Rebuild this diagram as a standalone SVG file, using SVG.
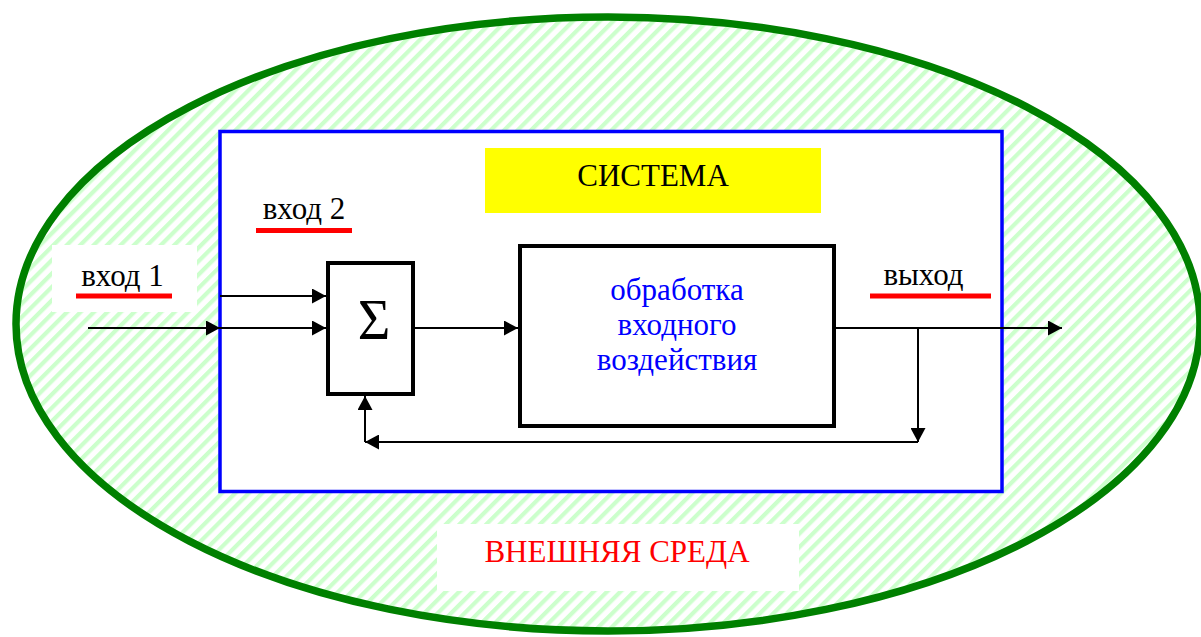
<svg xmlns="http://www.w3.org/2000/svg" width="1201" height="637" viewBox="0 0 1201 637">
<style>
.lbl{font-family:"Liberation Serif","Times New Roman",serif;fill:#000;text-anchor:middle;font-size:31px}
.blk{fill:#fff;stroke:#000;stroke-width:4}
.ul{fill:#ff0000}
.con{fill:none;stroke:#000;stroke-width:2}
</style>
<defs>
<pattern id="hatch" width="9.5" height="9.5" patternUnits="userSpaceOnUse" patternTransform="rotate(45)">
<rect width="9.5" height="9.5" fill="#ffffff"/>
<rect width="4.2" height="9.5" fill="#ccffcc"/>
</pattern>
<marker id="arr" markerWidth="14" markerHeight="15" refX="14" refY="7.5" orient="auto" markerUnits="userSpaceOnUse">
<path d="M0,0 L14,7.5 L0,15 z" fill="#000"/>
</marker>
</defs>
<rect width="1201" height="637" fill="#fff"/>
<g id="environment">
<ellipse cx="608" cy="324" rx="592" ry="307" fill="url(#hatch)" stroke="#008000" stroke-width="7.5"/>
<rect x="437" y="524" width="362" height="67" fill="#fff"/>
<text class="lbl" x="617" y="562" style="fill:#ff0000">ВНЕШНЯЯ СРЕДА</text>
</g>
<g id="input1">
<rect x="52" y="245" width="145" height="67" fill="#fff"/>
<text class="lbl" x="122.5" y="286">вход 1</text>
<rect class="ul" x="76" y="293.5" width="96" height="5"/>
</g>
<g id="system">
<rect x="220" y="131.5" width="782" height="360" fill="#fff" stroke="#0000ff" stroke-width="3.5"/>
<rect x="485" y="148" width="336" height="65" fill="#ffff00"/>
<text class="lbl" x="653" y="186">СИСТЕМА</text>
</g>
<g id="input2">
<text class="lbl" x="304" y="219">вход 2</text>
<rect class="ul" x="256" y="228" width="96" height="5"/>
</g>
<g id="output">
<text class="lbl" x="923.5" y="285">выход</text>
<rect class="ul" x="870" y="293.5" width="121" height="5"/>
</g>
<g id="sum">
<rect class="blk" x="328" y="263" width="85" height="131"/>
<text class="lbl" x="374" y="339" style="font-size:56px">Σ</text>
</g>
<g id="processing">
<rect class="blk" x="520" y="246" width="314" height="180"/>
<text class="lbl" x="677" y="300" style="fill:#0000ff">обработка</text>
<text class="lbl" x="677" y="335" style="fill:#0000ff">входного</text>
<text class="lbl" x="677" y="370" style="fill:#0000ff">воздействия</text>
</g>
<g id="connectors">
<path class="con" d="M88,328 H220" marker-end="url(#arr)"/>
<path class="con" d="M220,328 H326" marker-end="url(#arr)"/>
<path class="con" d="M220,296 H326" marker-end="url(#arr)"/>
<path class="con" d="M413,328 H518" marker-end="url(#arr)"/>
<path class="con" d="M834,328 H1062" marker-end="url(#arr)"/>
<path class="con" d="M918,328 V442" marker-end="url(#arr)"/>
<path class="con" d="M918,442 H365" marker-end="url(#arr)"/>
<path class="con" d="M365,442 V396" marker-end="url(#arr)"/>
</g>
</svg>
